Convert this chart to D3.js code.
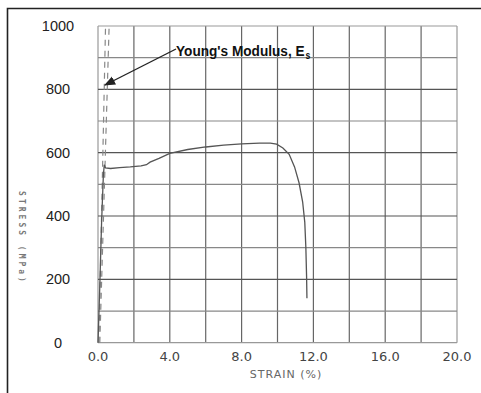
<!doctype html>
<html lang="en">
  <head>
    <meta charset="utf-8">
    <title>Stress Strain</title>
    <script src="https://d3js.org/d3.v7.min.js"></script>
    <style>
      body { margin: 0; background: #fff; }
      .ylab { font-family: "Liberation Sans", Arial, sans-serif; font-size: 14.5px; fill: #222; }
      .xlab { font-family: "DejaVu Sans", sans-serif; font-size: 13px; fill: #444; }
    </style>
  </head>
  <body>
    <script>

      // data
      var strain = [0, 0.1, 0.2, 0.3, 0.35, 0.42, 0.7, 1.2, 1.8, 2.4, 2.7, 2.9, 3.4, 4.0, 5.0, 6.0, 7.0, 8.0, 9.0, 9.6, 9.95, 10.3, 10.65, 10.95, 11.2, 11.4, 11.52, 11.58, 11.62, 11.64];
      var stress = [0, 180, 380, 530, 562, 552, 550, 553, 555, 558, 562, 570, 582, 598, 610, 618, 624, 628, 630, 630, 627, 615, 595, 555, 505, 445, 380, 300, 210, 140];

      // young's modulus guide lines (strain at 0 and at 1000 MPa)
      var modStrainLow = [0.05, 0.1];
      var modStrainHigh = [0.42, 0.62];
      var modStress = [0, 1000];

      var xTicks = [0, 4, 8, 12, 16, 20];
      var yTicks = [0, 200, 400, 600, 800, 1000];
      var xGrid = d3.range(0, 20.1, 2);
      var yGrid = d3.range(0, 1001, 100);

      var width = 481, height = 393;

      var x = d3.scaleLinear().domain([0, 20]).range([98, 457]);
      var y = d3.scaleLinear().domain([0, 1000]).range([342.7, 26]);

      var svg = d3.select("body").append("svg")
          .attr("width", width)
          .attr("height", height);

      // frame (top + left only are visible)
      svg.append("path")
          .attr("d", "M7.5,393V8.5H481")
          .attr("fill", "none")
          .attr("stroke", "#222")
          .attr("stroke-width", 1.6);

      var grid = svg.append("g");
      grid.selectAll(".vg").data(xGrid).enter().append("line")
          .attr("x1", d => x(d)).attr("x2", d => x(d))
          .attr("y1", y(0)).attr("y2", y(1000))
          .attr("stroke", (d, i) => (i == 0 || i == xGrid.length - 1) ? "#999" : "#666")
          .attr("stroke-width", 1.2);
      grid.selectAll(".hg").data(yGrid).enter().append("line")
          .attr("x1", x(0)).attr("x2", x(20))
          .attr("y1", d => y(d)).attr("y2", d => y(d))
          .attr("stroke", (d, i) => (i == 0 || i == yGrid.length - 1) ? "#999" : (d % 200 == 0 ? "#555" : "#888"))
          .attr("stroke-width", 1.2);

      svg.selectAll(".ylab").data(yTicks).enter().append("text")
          .attr("class", "ylab")
          .attr("x", 58)
          .attr("y", d => y(d) + 5)
          .attr("text-anchor", "middle")
          .text(d => d);

      svg.selectAll(".xlab").data(xTicks).enter().append("text")
          .attr("class", "xlab")
          .attr("x", d => x(d))
          .attr("y", 361)
          .attr("text-anchor", "middle")
          .text(d => d.toFixed(1));

      svg.append("text")
          .attr("x", 286)
          .attr("y", 378)
          .attr("text-anchor", "middle")
          .attr("font-family", "DejaVu Sans, sans-serif")
          .attr("font-size", 11)
          .attr("letter-spacing", 1)
          .attr("fill", "#666")
          .text("STRAIN  (%)");

      svg.append("text")
          .attr("transform", "translate(19,238) rotate(90)")
          .attr("text-anchor", "middle")
          .attr("font-family", "DejaVu Sans Mono, monospace")
          .attr("font-size", 8)
          .attr("font-weight", "bold")
          .attr("letter-spacing", 3)
          .attr("fill", "#777")
          .text("STRESS   (MPa)");

      // young's modulus dashed lines
      modStrainLow.forEach(function(s0, i) {
        svg.append("line")
            .attr("x1", x(s0)).attr("y1", y(modStress[0]))
            .attr("x2", x(modStrainHigh[i])).attr("y2", y(modStress[1]))
            .attr("stroke", "#888")
            .attr("stroke-width", 1.2)
            .attr("stroke-dasharray", "6,5");
      });

      var pts = strain.map((s, i) => [s, stress[i]]);
      svg.append("path")
          .datum(pts)
          .attr("fill", "none")
          .attr("stroke", "#555")
          .attr("stroke-width", 1.3)
          .attr("d", d3.line().x(d => x(d[0])).y(d => y(d[1])));

      // annotation
      svg.append("defs").append("marker")
          .attr("id", "arr")
          .attr("viewBox", "0 0 10 10")
          .attr("refX", 9).attr("refY", 5)
          .attr("markerWidth", 8).attr("markerHeight", 8)
          .attr("orient", "auto")
        .append("path")
          .attr("d", "M0,1L10,5L0,9z")
          .attr("fill", "#222");

      svg.append("line")
          .attr("x1", 176).attr("y1", 49)
          .attr("x2", 105).attr("y2", 85)
          .attr("stroke", "#222")
          .attr("stroke-width", 1.4)
          .attr("marker-end", "url(#arr)");

      // narrow bold label, squeezed horizontally like the scanned original
      var ann = svg.append("text")
          .attr("transform", "translate(176,56) scale(0.88,1)")
          .attr("font-family", "Liberation Sans, Arial, sans-serif")
          .attr("font-size", 15.5)
          .attr("font-weight", "bold")
          .attr("fill", "#111");
      ann.append("tspan").text("Young's Modulus, E");
      ann.append("tspan").attr("font-size", 10).attr("dx", 1).attr("dy", 3).text("s");

    </script>
  </body>
</html>
